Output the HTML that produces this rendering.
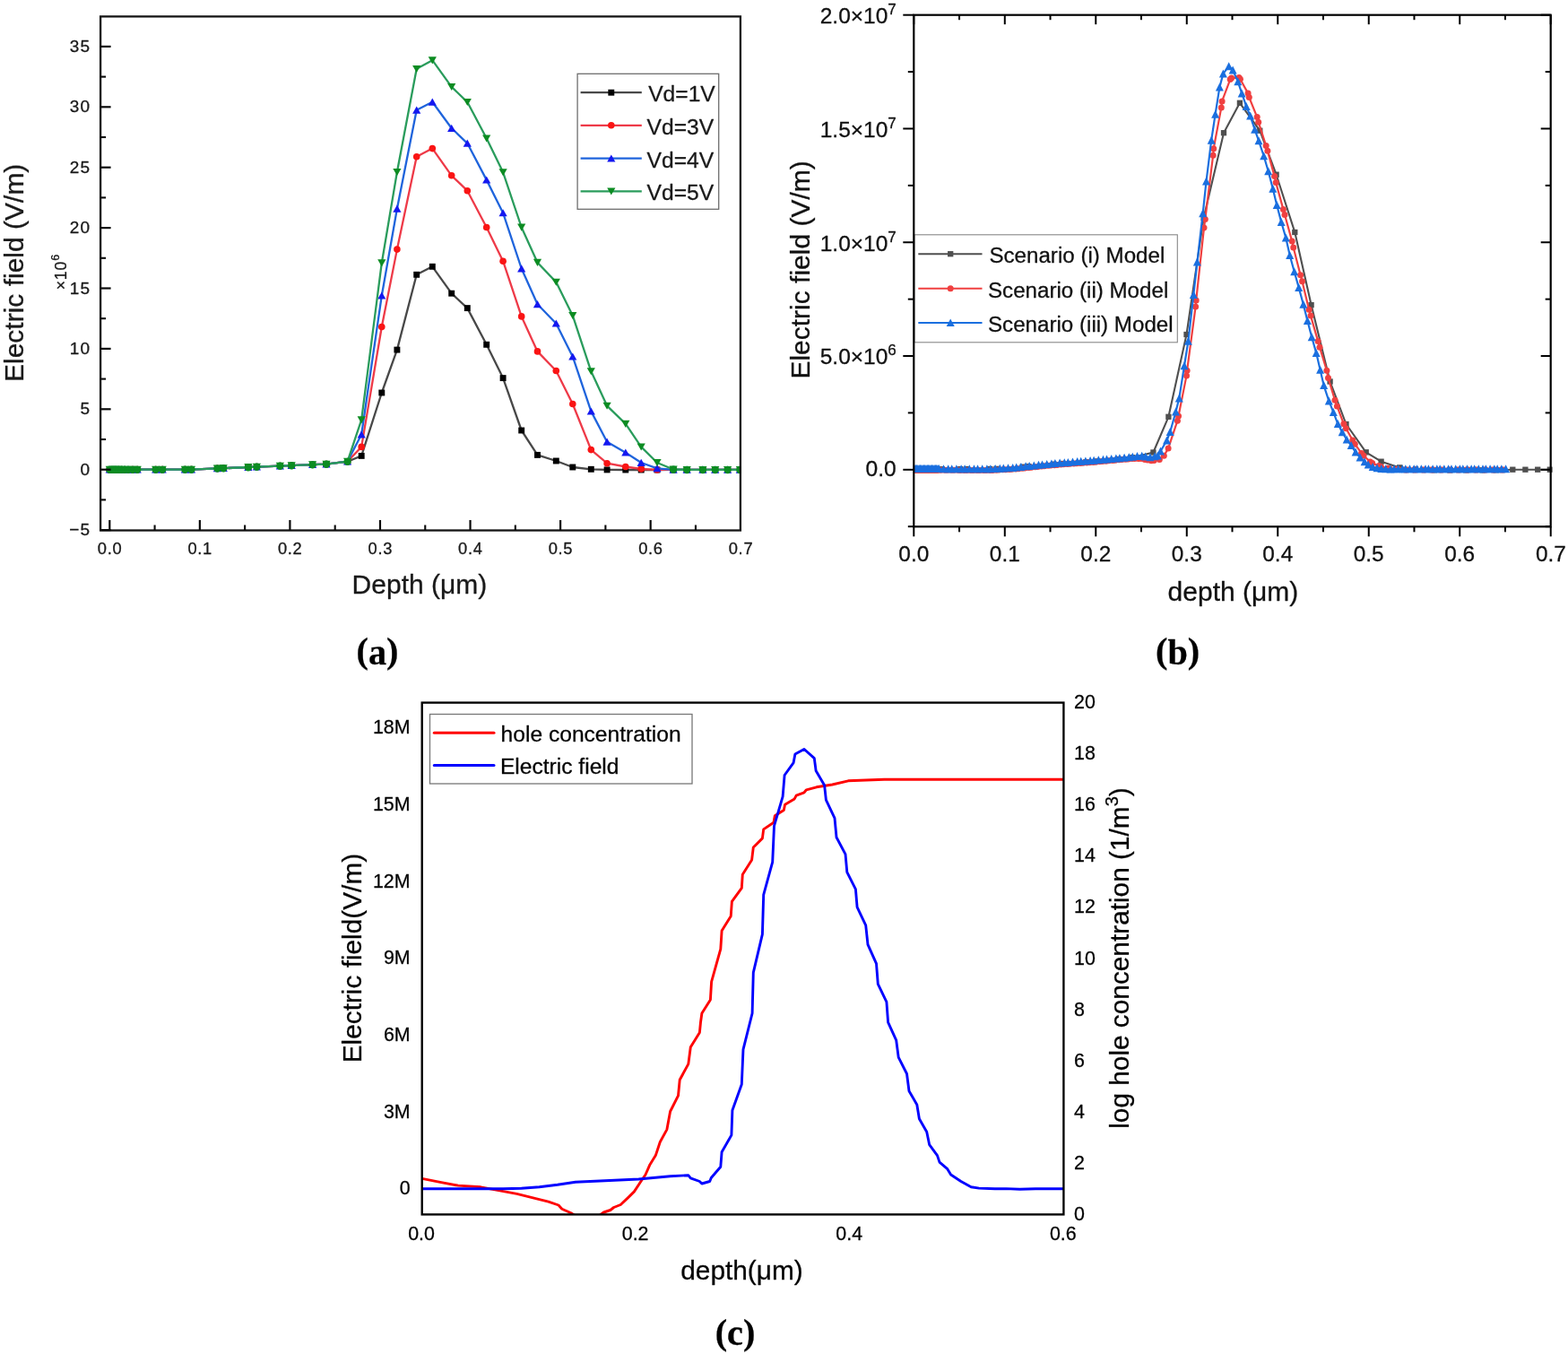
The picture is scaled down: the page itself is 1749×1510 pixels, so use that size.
<!DOCTYPE html>
<html lang="en">
<head>
<meta charset="utf-8">
<title>Electric field versus depth</title>
<style>
html,body{margin:0;padding:0;background:#fff;}
body{width:1749px;height:1510px;overflow:hidden;}
svg{display:block;font-family:'Liberation Sans', Arial, Helvetica, sans-serif;}
text{stroke:#111;stroke-width:0.3px;stroke-linejoin:round;}
</style>
</head>
<body>
<svg width="1749" height="1510" viewBox="0 0 1749 1510">
<rect x="0" y="0" width="1749" height="1510" fill="#fff"/>
<g id="chart-a">
<clipPath id="clipA"><rect x="112.1" y="18.4" width="714.8" height="573.1"/></clipPath>
<g clip-path="url(#clipA)">
<polyline points="122.3,523.7 124.8,523.7 127.3,523.69 129.8,523.69 132.5,523.69 135.5,523.69 139,523.68 143,523.68 148,523.67 153.2,523.67 173.7,523.64 181.2,523.64 206.4,523.61 213.5,523.6 242.4,522.4 249.2,522.2 276.9,521 286.4,520.6 312.4,519.6 325.2,519.2 348.6,518.2 364,517.6 387.6,514.7 403.2,508.4 425.8,438 442.9,390.1 464.7,306.3 482.3,297.3 503.7,327.2 521.3,343.6 542.7,384.3 561.1,421.6 581.7,480 599.5,507.4 620.3,514 638.8,521 659.3,523.3 677.1,523.9 697.8,524 715.2,524 733,524 751.1,523.9 766.2,523.8 783.9,523.8 797.7,523.8 811.6,523.8 825.4,523.8" fill="none" stroke="#484848" stroke-width="2.3" stroke-linejoin="round" stroke-linecap="round"/>
<rect x="118.85" y="520.25" width="6.9" height="6.9" fill="#000000"/>
<rect x="121.35" y="520.25" width="6.9" height="6.9" fill="#000000"/>
<rect x="123.85" y="520.24" width="6.9" height="6.9" fill="#000000"/>
<rect x="126.35" y="520.24" width="6.9" height="6.9" fill="#000000"/>
<rect x="129.05" y="520.24" width="6.9" height="6.9" fill="#000000"/>
<rect x="132.05" y="520.24" width="6.9" height="6.9" fill="#000000"/>
<rect x="135.55" y="520.23" width="6.9" height="6.9" fill="#000000"/>
<rect x="139.55" y="520.23" width="6.9" height="6.9" fill="#000000"/>
<rect x="144.55" y="520.22" width="6.9" height="6.9" fill="#000000"/>
<rect x="149.75" y="520.22" width="6.9" height="6.9" fill="#000000"/>
<rect x="170.25" y="520.19" width="6.9" height="6.9" fill="#000000"/>
<rect x="177.75" y="520.19" width="6.9" height="6.9" fill="#000000"/>
<rect x="202.95" y="520.16" width="6.9" height="6.9" fill="#000000"/>
<rect x="210.05" y="520.15" width="6.9" height="6.9" fill="#000000"/>
<rect x="238.95" y="518.95" width="6.9" height="6.9" fill="#000000"/>
<rect x="245.75" y="518.75" width="6.9" height="6.9" fill="#000000"/>
<rect x="273.45" y="517.55" width="6.9" height="6.9" fill="#000000"/>
<rect x="282.95" y="517.15" width="6.9" height="6.9" fill="#000000"/>
<rect x="308.95" y="516.15" width="6.9" height="6.9" fill="#000000"/>
<rect x="321.75" y="515.75" width="6.9" height="6.9" fill="#000000"/>
<rect x="345.15" y="514.75" width="6.9" height="6.9" fill="#000000"/>
<rect x="360.55" y="514.15" width="6.9" height="6.9" fill="#000000"/>
<rect x="384.15" y="511.25" width="6.9" height="6.9" fill="#000000"/>
<rect x="399.75" y="504.95" width="6.9" height="6.9" fill="#000000"/>
<rect x="422.35" y="434.55" width="6.9" height="6.9" fill="#000000"/>
<rect x="439.45" y="386.65" width="6.9" height="6.9" fill="#000000"/>
<rect x="461.25" y="302.85" width="6.9" height="6.9" fill="#000000"/>
<rect x="478.85" y="293.85" width="6.9" height="6.9" fill="#000000"/>
<rect x="500.25" y="323.75" width="6.9" height="6.9" fill="#000000"/>
<rect x="517.85" y="340.15" width="6.9" height="6.9" fill="#000000"/>
<rect x="539.25" y="380.85" width="6.9" height="6.9" fill="#000000"/>
<rect x="557.65" y="418.15" width="6.9" height="6.9" fill="#000000"/>
<rect x="578.25" y="476.55" width="6.9" height="6.9" fill="#000000"/>
<rect x="596.05" y="503.95" width="6.9" height="6.9" fill="#000000"/>
<rect x="616.85" y="510.55" width="6.9" height="6.9" fill="#000000"/>
<rect x="635.35" y="517.55" width="6.9" height="6.9" fill="#000000"/>
<rect x="655.85" y="519.85" width="6.9" height="6.9" fill="#000000"/>
<rect x="673.65" y="520.45" width="6.9" height="6.9" fill="#000000"/>
<rect x="694.35" y="520.55" width="6.9" height="6.9" fill="#000000"/>
<rect x="711.75" y="520.55" width="6.9" height="6.9" fill="#000000"/>
<rect x="729.55" y="520.55" width="6.9" height="6.9" fill="#000000"/>
<rect x="747.65" y="520.45" width="6.9" height="6.9" fill="#000000"/>
<rect x="762.75" y="520.35" width="6.9" height="6.9" fill="#000000"/>
<rect x="780.45" y="520.35" width="6.9" height="6.9" fill="#000000"/>
<rect x="794.25" y="520.35" width="6.9" height="6.9" fill="#000000"/>
<rect x="808.15" y="520.35" width="6.9" height="6.9" fill="#000000"/>
<rect x="821.95" y="520.35" width="6.9" height="6.9" fill="#000000"/>
<polyline points="122.3,523.7 124.8,523.7 127.3,523.69 129.8,523.69 132.5,523.69 135.5,523.69 139,523.68 143,523.68 148,523.67 153.2,523.67 173.7,523.64 181.2,523.64 206.4,523.61 213.5,523.6 242.4,522.4 249.2,522.2 276.9,521 286.4,520.6 312.4,519.6 325.2,519.2 348.6,518.2 364,517.6 387.6,514.7 403.2,498.4 425.8,364.5 442.9,278.1 464.7,174.7 482.3,165.6 503.7,195.8 521.3,212.7 542.7,253.5 561.1,291.2 581.7,352.9 599.5,391.9 620.3,413.5 638.8,450.5 659.3,501.6 677.1,516.7 697.8,520.5 715.2,523 733,523.9 751.1,523.9 766.2,523.8 783.9,523.8 797.7,523.8 811.6,523.8 825.4,523.8" fill="none" stroke="#ee3a48" stroke-width="2.3" stroke-linejoin="round" stroke-linecap="round"/>
<circle cx="122.3" cy="523.7" r="3.8" fill="#fa1414"/>
<circle cx="124.8" cy="523.7" r="3.8" fill="#fa1414"/>
<circle cx="127.3" cy="523.69" r="3.8" fill="#fa1414"/>
<circle cx="129.8" cy="523.69" r="3.8" fill="#fa1414"/>
<circle cx="132.5" cy="523.69" r="3.8" fill="#fa1414"/>
<circle cx="135.5" cy="523.69" r="3.8" fill="#fa1414"/>
<circle cx="139" cy="523.68" r="3.8" fill="#fa1414"/>
<circle cx="143" cy="523.68" r="3.8" fill="#fa1414"/>
<circle cx="148" cy="523.67" r="3.8" fill="#fa1414"/>
<circle cx="153.2" cy="523.67" r="3.8" fill="#fa1414"/>
<circle cx="173.7" cy="523.64" r="3.8" fill="#fa1414"/>
<circle cx="181.2" cy="523.64" r="3.8" fill="#fa1414"/>
<circle cx="206.4" cy="523.61" r="3.8" fill="#fa1414"/>
<circle cx="213.5" cy="523.6" r="3.8" fill="#fa1414"/>
<circle cx="242.4" cy="522.4" r="3.8" fill="#fa1414"/>
<circle cx="249.2" cy="522.2" r="3.8" fill="#fa1414"/>
<circle cx="276.9" cy="521" r="3.8" fill="#fa1414"/>
<circle cx="286.4" cy="520.6" r="3.8" fill="#fa1414"/>
<circle cx="312.4" cy="519.6" r="3.8" fill="#fa1414"/>
<circle cx="325.2" cy="519.2" r="3.8" fill="#fa1414"/>
<circle cx="348.6" cy="518.2" r="3.8" fill="#fa1414"/>
<circle cx="364" cy="517.6" r="3.8" fill="#fa1414"/>
<circle cx="387.6" cy="514.7" r="3.8" fill="#fa1414"/>
<circle cx="403.2" cy="498.4" r="3.8" fill="#fa1414"/>
<circle cx="425.8" cy="364.5" r="3.8" fill="#fa1414"/>
<circle cx="442.9" cy="278.1" r="3.8" fill="#fa1414"/>
<circle cx="464.7" cy="174.7" r="3.8" fill="#fa1414"/>
<circle cx="482.3" cy="165.6" r="3.8" fill="#fa1414"/>
<circle cx="503.7" cy="195.8" r="3.8" fill="#fa1414"/>
<circle cx="521.3" cy="212.7" r="3.8" fill="#fa1414"/>
<circle cx="542.7" cy="253.5" r="3.8" fill="#fa1414"/>
<circle cx="561.1" cy="291.2" r="3.8" fill="#fa1414"/>
<circle cx="581.7" cy="352.9" r="3.8" fill="#fa1414"/>
<circle cx="599.5" cy="391.9" r="3.8" fill="#fa1414"/>
<circle cx="620.3" cy="413.5" r="3.8" fill="#fa1414"/>
<circle cx="638.8" cy="450.5" r="3.8" fill="#fa1414"/>
<circle cx="659.3" cy="501.6" r="3.8" fill="#fa1414"/>
<circle cx="677.1" cy="516.7" r="3.8" fill="#fa1414"/>
<circle cx="697.8" cy="520.5" r="3.8" fill="#fa1414"/>
<circle cx="715.2" cy="523" r="3.8" fill="#fa1414"/>
<circle cx="733" cy="523.9" r="3.8" fill="#fa1414"/>
<circle cx="751.1" cy="523.9" r="3.8" fill="#fa1414"/>
<circle cx="766.2" cy="523.8" r="3.8" fill="#fa1414"/>
<circle cx="783.9" cy="523.8" r="3.8" fill="#fa1414"/>
<circle cx="797.7" cy="523.8" r="3.8" fill="#fa1414"/>
<circle cx="811.6" cy="523.8" r="3.8" fill="#fa1414"/>
<circle cx="825.4" cy="523.8" r="3.8" fill="#fa1414"/>
<polyline points="122.3,523.7 124.8,523.7 127.3,523.69 129.8,523.69 132.5,523.69 135.5,523.69 139,523.68 143,523.68 148,523.67 153.2,523.67 173.7,523.64 181.2,523.64 206.4,523.61 213.5,523.6 242.4,522.4 249.2,522.2 276.9,521 286.4,520.6 312.4,519.6 325.2,519.2 348.6,518.2 364,517.6 387.6,514.7 403.2,484.5 425.8,329.7 442.9,232.8 464.7,122.8 482.3,113.8 503.7,143 521.3,159.8 542.7,200.6 561.1,237.4 581.7,299.5 599.5,339.3 620.3,360.7 638.8,397.7 659.3,458.6 677.1,492.8 697.8,504.7 715.2,516 733,522.3 751.1,523.8 766.2,523.8 783.9,523.8 797.7,523.8 811.6,523.8 825.4,523.8" fill="none" stroke="#1f64dc" stroke-width="2.3" stroke-linejoin="round" stroke-linecap="round"/>
<polygon points="122.3,519.49 117.7,527.59 126.9,527.59" fill="#1418f0"/>
<polygon points="124.8,519.49 120.2,527.58 129.4,527.58" fill="#1418f0"/>
<polygon points="127.3,519.48 122.7,527.58 131.9,527.58" fill="#1418f0"/>
<polygon points="129.8,519.48 125.2,527.58 134.4,527.58" fill="#1418f0"/>
<polygon points="132.5,519.48 127.9,527.57 137.1,527.57" fill="#1418f0"/>
<polygon points="135.5,519.48 130.9,527.57 140.1,527.57" fill="#1418f0"/>
<polygon points="139,519.47 134.4,527.57 143.6,527.57" fill="#1418f0"/>
<polygon points="143,519.47 138.4,527.56 147.6,527.56" fill="#1418f0"/>
<polygon points="148,519.46 143.4,527.56 152.6,527.56" fill="#1418f0"/>
<polygon points="153.2,519.46 148.6,527.55 157.8,527.55" fill="#1418f0"/>
<polygon points="173.7,519.43 169.1,527.53 178.3,527.53" fill="#1418f0"/>
<polygon points="181.2,519.43 176.6,527.52 185.8,527.52" fill="#1418f0"/>
<polygon points="206.4,519.4 201.8,527.49 211,527.49" fill="#1418f0"/>
<polygon points="213.5,519.39 208.9,527.49 218.1,527.49" fill="#1418f0"/>
<polygon points="242.4,518.19 237.8,526.29 247,526.29" fill="#1418f0"/>
<polygon points="249.2,517.99 244.6,526.09 253.8,526.09" fill="#1418f0"/>
<polygon points="276.9,516.79 272.3,524.89 281.5,524.89" fill="#1418f0"/>
<polygon points="286.4,516.39 281.8,524.49 291,524.49" fill="#1418f0"/>
<polygon points="312.4,515.39 307.8,523.49 317,523.49" fill="#1418f0"/>
<polygon points="325.2,514.99 320.6,523.09 329.8,523.09" fill="#1418f0"/>
<polygon points="348.6,513.99 344,522.09 353.2,522.09" fill="#1418f0"/>
<polygon points="364,513.39 359.4,521.49 368.6,521.49" fill="#1418f0"/>
<polygon points="387.6,510.49 383,518.59 392.2,518.59" fill="#1418f0"/>
<polygon points="403.2,480.29 398.6,488.39 407.8,488.39" fill="#1418f0"/>
<polygon points="425.8,325.49 421.2,333.59 430.4,333.59" fill="#1418f0"/>
<polygon points="442.9,228.59 438.3,236.69 447.5,236.69" fill="#1418f0"/>
<polygon points="464.7,118.59 460.1,126.69 469.3,126.69" fill="#1418f0"/>
<polygon points="482.3,109.59 477.7,117.69 486.9,117.69" fill="#1418f0"/>
<polygon points="503.7,138.79 499.1,146.89 508.3,146.89" fill="#1418f0"/>
<polygon points="521.3,155.59 516.7,163.69 525.9,163.69" fill="#1418f0"/>
<polygon points="542.7,196.39 538.1,204.49 547.3,204.49" fill="#1418f0"/>
<polygon points="561.1,233.19 556.5,241.29 565.7,241.29" fill="#1418f0"/>
<polygon points="581.7,295.29 577.1,303.39 586.3,303.39" fill="#1418f0"/>
<polygon points="599.5,335.09 594.9,343.19 604.1,343.19" fill="#1418f0"/>
<polygon points="620.3,356.49 615.7,364.59 624.9,364.59" fill="#1418f0"/>
<polygon points="638.8,393.49 634.2,401.59 643.4,401.59" fill="#1418f0"/>
<polygon points="659.3,454.39 654.7,462.49 663.9,462.49" fill="#1418f0"/>
<polygon points="677.1,488.59 672.5,496.69 681.7,496.69" fill="#1418f0"/>
<polygon points="697.8,500.49 693.2,508.59 702.4,508.59" fill="#1418f0"/>
<polygon points="715.2,511.79 710.6,519.89 719.8,519.89" fill="#1418f0"/>
<polygon points="733,518.09 728.4,526.19 737.6,526.19" fill="#1418f0"/>
<polygon points="751.1,519.59 746.5,527.69 755.7,527.69" fill="#1418f0"/>
<polygon points="766.2,519.59 761.6,527.69 770.8,527.69" fill="#1418f0"/>
<polygon points="783.9,519.59 779.3,527.69 788.5,527.69" fill="#1418f0"/>
<polygon points="797.7,519.59 793.1,527.69 802.3,527.69" fill="#1418f0"/>
<polygon points="811.6,519.59 807,527.69 816.2,527.69" fill="#1418f0"/>
<polygon points="825.4,519.59 820.8,527.69 830,527.69" fill="#1418f0"/>
<polyline points="122.3,523.7 124.8,523.7 127.3,523.69 129.8,523.69 132.5,523.69 135.5,523.69 139,523.68 143,523.68 148,523.67 153.2,523.67 173.7,523.64 181.2,523.64 206.4,523.61 213.5,523.6 242.4,522.4 249.2,522.2 276.9,521 286.4,520.6 312.4,519.6 325.2,519.2 348.6,518.2 364,517.6 387.6,514.7 403.2,468.2 425.8,293.2 442.9,191.8 464.7,76.8 482.3,67.2 503.7,96.9 521.3,113.8 542.7,154.3 561.1,192.1 581.7,253.5 599.5,292.7 620.3,314.6 638.8,351.9 659.3,414.1 677.1,452.6 697.8,472.7 715.2,498.4 733,516 751.1,523.5 766.2,523.8 783.9,523.8 797.7,523.8 811.6,523.8 825.4,523.8" fill="none" stroke="#2a9c5c" stroke-width="2.3" stroke-linejoin="round" stroke-linecap="round"/>
<circle cx="122.3" cy="523.9" r="4.2" fill="#0c8c22"/>
<polygon points="122.3,527.91 117.7,519.81 126.9,519.81" fill="#0c8c22"/>
<circle cx="124.8" cy="523.9" r="4.2" fill="#0c8c22"/>
<polygon points="124.8,527.91 120.2,519.81 129.4,519.81" fill="#0c8c22"/>
<circle cx="127.3" cy="523.89" r="4.2" fill="#0c8c22"/>
<polygon points="127.3,527.9 122.7,519.81 131.9,519.81" fill="#0c8c22"/>
<circle cx="129.8" cy="523.89" r="4.2" fill="#0c8c22"/>
<polygon points="129.8,527.9 125.2,519.81 134.4,519.81" fill="#0c8c22"/>
<circle cx="132.5" cy="523.89" r="4.2" fill="#0c8c22"/>
<polygon points="132.5,527.9 127.9,519.8 137.1,519.8" fill="#0c8c22"/>
<circle cx="135.5" cy="523.89" r="4.2" fill="#0c8c22"/>
<polygon points="135.5,527.9 130.9,519.8 140.1,519.8" fill="#0c8c22"/>
<circle cx="139" cy="523.88" r="4.2" fill="#0c8c22"/>
<polygon points="139,527.89 134.4,519.8 143.6,519.8" fill="#0c8c22"/>
<circle cx="143" cy="523.88" r="4.2" fill="#0c8c22"/>
<polygon points="143,527.89 138.4,519.79 147.6,519.79" fill="#0c8c22"/>
<circle cx="148" cy="523.87" r="4.2" fill="#0c8c22"/>
<polygon points="148,527.88 143.4,519.79 152.6,519.79" fill="#0c8c22"/>
<circle cx="153.2" cy="523.87" r="4.2" fill="#0c8c22"/>
<polygon points="153.2,527.88 148.6,519.78 157.8,519.78" fill="#0c8c22"/>
<circle cx="173.7" cy="523.84" r="4.2" fill="#0c8c22"/>
<polygon points="173.7,527.85 169.1,519.76 178.3,519.76" fill="#0c8c22"/>
<circle cx="181.2" cy="523.84" r="4.2" fill="#0c8c22"/>
<polygon points="181.2,527.85 176.6,519.75 185.8,519.75" fill="#0c8c22"/>
<circle cx="206.4" cy="523.81" r="4.2" fill="#0c8c22"/>
<polygon points="206.4,527.82 201.8,519.72 211,519.72" fill="#0c8c22"/>
<circle cx="213.5" cy="523.8" r="4.2" fill="#0c8c22"/>
<polygon points="213.5,527.81 208.9,519.71 218.1,519.71" fill="#0c8c22"/>
<circle cx="242.4" cy="522.6" r="4.2" fill="#0c8c22"/>
<polygon points="242.4,526.61 237.8,518.51 247,518.51" fill="#0c8c22"/>
<circle cx="249.2" cy="522.4" r="4.2" fill="#0c8c22"/>
<polygon points="249.2,526.41 244.6,518.31 253.8,518.31" fill="#0c8c22"/>
<circle cx="276.9" cy="521.2" r="4.2" fill="#0c8c22"/>
<polygon points="276.9,525.21 272.3,517.11 281.5,517.11" fill="#0c8c22"/>
<circle cx="286.4" cy="520.8" r="4.2" fill="#0c8c22"/>
<polygon points="286.4,524.81 281.8,516.71 291,516.71" fill="#0c8c22"/>
<circle cx="312.4" cy="519.8" r="4.2" fill="#0c8c22"/>
<polygon points="312.4,523.81 307.8,515.71 317,515.71" fill="#0c8c22"/>
<circle cx="325.2" cy="519.4" r="4.2" fill="#0c8c22"/>
<polygon points="325.2,523.41 320.6,515.31 329.8,515.31" fill="#0c8c22"/>
<circle cx="348.6" cy="518.4" r="4.2" fill="#0c8c22"/>
<polygon points="348.6,522.41 344,514.31 353.2,514.31" fill="#0c8c22"/>
<circle cx="364" cy="517.8" r="4.2" fill="#0c8c22"/>
<polygon points="364,521.81 359.4,513.71 368.6,513.71" fill="#0c8c22"/>
<circle cx="387.6" cy="514.9" r="4.2" fill="#0c8c22"/>
<polygon points="387.6,518.91 383,510.81 392.2,510.81" fill="#0c8c22"/>
<polygon points="403.2,472.41 398.6,464.31 407.8,464.31" fill="#0c8c22"/>
<polygon points="425.8,297.41 421.2,289.31 430.4,289.31" fill="#0c8c22"/>
<polygon points="442.9,196.01 438.3,187.91 447.5,187.91" fill="#0c8c22"/>
<polygon points="464.7,81.01 460.1,72.91 469.3,72.91" fill="#0c8c22"/>
<polygon points="482.3,71.41 477.7,63.31 486.9,63.31" fill="#0c8c22"/>
<polygon points="503.7,101.11 499.1,93.01 508.3,93.01" fill="#0c8c22"/>
<polygon points="521.3,118.01 516.7,109.91 525.9,109.91" fill="#0c8c22"/>
<polygon points="542.7,158.51 538.1,150.41 547.3,150.41" fill="#0c8c22"/>
<polygon points="561.1,196.31 556.5,188.21 565.7,188.21" fill="#0c8c22"/>
<polygon points="581.7,257.71 577.1,249.61 586.3,249.61" fill="#0c8c22"/>
<polygon points="599.5,296.91 594.9,288.81 604.1,288.81" fill="#0c8c22"/>
<polygon points="620.3,318.81 615.7,310.71 624.9,310.71" fill="#0c8c22"/>
<polygon points="638.8,356.11 634.2,348.01 643.4,348.01" fill="#0c8c22"/>
<polygon points="659.3,418.31 654.7,410.21 663.9,410.21" fill="#0c8c22"/>
<polygon points="677.1,456.81 672.5,448.71 681.7,448.71" fill="#0c8c22"/>
<polygon points="697.8,476.91 693.2,468.81 702.4,468.81" fill="#0c8c22"/>
<polygon points="715.2,502.61 710.6,494.51 719.8,494.51" fill="#0c8c22"/>
<polygon points="733,520.21 728.4,512.11 737.6,512.11" fill="#0c8c22"/>
<circle cx="751.1" cy="523.7" r="4.2" fill="#0c8c22"/>
<polygon points="751.1,527.71 746.5,519.61 755.7,519.61" fill="#0c8c22"/>
<circle cx="766.2" cy="524" r="4.2" fill="#0c8c22"/>
<polygon points="766.2,528.01 761.6,519.91 770.8,519.91" fill="#0c8c22"/>
<circle cx="783.9" cy="524" r="4.2" fill="#0c8c22"/>
<polygon points="783.9,528.01 779.3,519.91 788.5,519.91" fill="#0c8c22"/>
<circle cx="797.7" cy="524" r="4.2" fill="#0c8c22"/>
<polygon points="797.7,528.01 793.1,519.91 802.3,519.91" fill="#0c8c22"/>
<circle cx="811.6" cy="524" r="4.2" fill="#0c8c22"/>
<polygon points="811.6,528.01 807,519.91 816.2,519.91" fill="#0c8c22"/>
<circle cx="825.4" cy="524" r="4.2" fill="#0c8c22"/>
<polygon points="825.4,528.01 820.8,519.91 830,519.91" fill="#0c8c22"/>
</g>
<rect x="112.1" y="18.4" width="713.8" height="573.1" fill="none" stroke="#141414" stroke-width="2.3"/>
<line x1="112.1" y1="591.1" x2="123.6" y2="591.1" stroke="#0a0a0a" stroke-width="2.2"/>
<line x1="112.1" y1="557.4" x2="118.1" y2="557.4" stroke="#0a0a0a" stroke-width="2.1"/>
<line x1="112.1" y1="523.7" x2="123.6" y2="523.7" stroke="#0a0a0a" stroke-width="2.2"/>
<line x1="112.1" y1="490" x2="118.1" y2="490" stroke="#0a0a0a" stroke-width="2.1"/>
<line x1="112.1" y1="456.3" x2="123.6" y2="456.3" stroke="#0a0a0a" stroke-width="2.2"/>
<line x1="112.1" y1="422.6" x2="118.1" y2="422.6" stroke="#0a0a0a" stroke-width="2.1"/>
<line x1="112.1" y1="388.9" x2="123.6" y2="388.9" stroke="#0a0a0a" stroke-width="2.2"/>
<line x1="112.1" y1="355.2" x2="118.1" y2="355.2" stroke="#0a0a0a" stroke-width="2.1"/>
<line x1="112.1" y1="321.5" x2="123.6" y2="321.5" stroke="#0a0a0a" stroke-width="2.2"/>
<line x1="112.1" y1="287.8" x2="118.1" y2="287.8" stroke="#0a0a0a" stroke-width="2.1"/>
<line x1="112.1" y1="254.1" x2="123.6" y2="254.1" stroke="#0a0a0a" stroke-width="2.2"/>
<line x1="112.1" y1="220.4" x2="118.1" y2="220.4" stroke="#0a0a0a" stroke-width="2.1"/>
<line x1="112.1" y1="186.7" x2="123.6" y2="186.7" stroke="#0a0a0a" stroke-width="2.2"/>
<line x1="112.1" y1="153" x2="118.1" y2="153" stroke="#0a0a0a" stroke-width="2.1"/>
<line x1="112.1" y1="119.3" x2="123.6" y2="119.3" stroke="#0a0a0a" stroke-width="2.2"/>
<line x1="112.1" y1="85.6" x2="118.1" y2="85.6" stroke="#0a0a0a" stroke-width="2.1"/>
<line x1="112.1" y1="51.9" x2="123.6" y2="51.9" stroke="#0a0a0a" stroke-width="2.2"/>
<line x1="122.3" y1="591.5" x2="122.3" y2="580" stroke="#0a0a0a" stroke-width="2.2"/>
<line x1="172.58" y1="591.5" x2="172.58" y2="585.5" stroke="#0a0a0a" stroke-width="2.1"/>
<line x1="222.86" y1="591.5" x2="222.86" y2="580" stroke="#0a0a0a" stroke-width="2.2"/>
<line x1="273.14" y1="591.5" x2="273.14" y2="585.5" stroke="#0a0a0a" stroke-width="2.1"/>
<line x1="323.42" y1="591.5" x2="323.42" y2="580" stroke="#0a0a0a" stroke-width="2.2"/>
<line x1="373.7" y1="591.5" x2="373.7" y2="585.5" stroke="#0a0a0a" stroke-width="2.1"/>
<line x1="423.98" y1="591.5" x2="423.98" y2="580" stroke="#0a0a0a" stroke-width="2.2"/>
<line x1="474.26" y1="591.5" x2="474.26" y2="585.5" stroke="#0a0a0a" stroke-width="2.1"/>
<line x1="524.54" y1="591.5" x2="524.54" y2="580" stroke="#0a0a0a" stroke-width="2.2"/>
<line x1="574.82" y1="591.5" x2="574.82" y2="585.5" stroke="#0a0a0a" stroke-width="2.1"/>
<line x1="625.1" y1="591.5" x2="625.1" y2="580" stroke="#0a0a0a" stroke-width="2.2"/>
<line x1="675.38" y1="591.5" x2="675.38" y2="585.5" stroke="#0a0a0a" stroke-width="2.1"/>
<line x1="725.66" y1="591.5" x2="725.66" y2="580" stroke="#0a0a0a" stroke-width="2.2"/>
<line x1="775.94" y1="591.5" x2="775.94" y2="585.5" stroke="#0a0a0a" stroke-width="2.1"/>
<text x="101.1" y="597.2" font-size="19" text-anchor="end" font-weight="normal" fill="#1a1a1a" letter-spacing="1.1">−5</text>
<text x="101.1" y="529.8" font-size="19" text-anchor="end" font-weight="normal" fill="#1a1a1a" letter-spacing="1.1">0</text>
<text x="101.1" y="462.4" font-size="19" text-anchor="end" font-weight="normal" fill="#1a1a1a" letter-spacing="1.1">5</text>
<text x="101.1" y="395" font-size="19" text-anchor="end" font-weight="normal" fill="#1a1a1a" letter-spacing="1.1">10</text>
<text x="101.1" y="327.6" font-size="19" text-anchor="end" font-weight="normal" fill="#1a1a1a" letter-spacing="1.1">15</text>
<text x="101.1" y="260.2" font-size="19" text-anchor="end" font-weight="normal" fill="#1a1a1a" letter-spacing="1.1">20</text>
<text x="101.1" y="192.8" font-size="19" text-anchor="end" font-weight="normal" fill="#1a1a1a" letter-spacing="1.1">25</text>
<text x="101.1" y="125.4" font-size="19" text-anchor="end" font-weight="normal" fill="#1a1a1a" letter-spacing="1.1">30</text>
<text x="101.1" y="58" font-size="19" text-anchor="end" font-weight="normal" fill="#1a1a1a" letter-spacing="1.1">35</text>
<text x="122.6" y="618.2" font-size="18.3" text-anchor="middle" font-weight="normal" fill="#1a1a1a" letter-spacing="0.7">0.0</text>
<text x="223.16" y="618.2" font-size="18.3" text-anchor="middle" font-weight="normal" fill="#1a1a1a" letter-spacing="0.7">0.1</text>
<text x="323.72" y="618.2" font-size="18.3" text-anchor="middle" font-weight="normal" fill="#1a1a1a" letter-spacing="0.7">0.2</text>
<text x="424.28" y="618.2" font-size="18.3" text-anchor="middle" font-weight="normal" fill="#1a1a1a" letter-spacing="0.7">0.3</text>
<text x="524.84" y="618.2" font-size="18.3" text-anchor="middle" font-weight="normal" fill="#1a1a1a" letter-spacing="0.7">0.4</text>
<text x="625.4" y="618.2" font-size="18.3" text-anchor="middle" font-weight="normal" fill="#1a1a1a" letter-spacing="0.7">0.5</text>
<text x="725.96" y="618.2" font-size="18.3" text-anchor="middle" font-weight="normal" fill="#1a1a1a" letter-spacing="0.7">0.6</text>
<text x="826.52" y="618.2" font-size="18.3" text-anchor="middle" font-weight="normal" fill="#1a1a1a" letter-spacing="0.7">0.7</text>
<text x="392.6" y="661.8" font-size="30" text-anchor="start" font-weight="normal" fill="#1a1a1a">Depth (μm)</text>
<text x="26.1" y="426" font-size="30" text-anchor="start" font-weight="normal" fill="#1a1a1a" transform="rotate(-90 26.1 426)">Electric field (V/m)</text>
<text x="73.6" y="323.3" font-size="17.6" letter-spacing="0.9" text-anchor="start" fill="#1a1a1a" transform="rotate(-90 73.6 323.3)">×10<tspan font-size="12.5" dy="-8">6</tspan></text>
<rect x="644.1" y="82.3" width="157.6" height="151" fill="#fff" stroke="#6e6e6e" stroke-width="1.3"/>
<line x1="647.6" y1="103.2" x2="715.8" y2="103.2" stroke="#484848" stroke-width="2.3"/>
<rect x="678.35" y="99.75" width="6.9" height="6.9" fill="#000000"/>
<text x="723.2" y="112.7" font-size="24.6" text-anchor="start" font-weight="normal" fill="#1a1a1a">Vd=1V</text>
<line x1="647.6" y1="139.8" x2="715.8" y2="139.8" stroke="#ee3a48" stroke-width="2.3"/>
<circle cx="681.8" cy="139.8" r="3.8" fill="#fa1414"/>
<text x="721.6" y="149.8" font-size="24.6" text-anchor="start" font-weight="normal" fill="#1a1a1a">Vd=3V</text>
<line x1="647.6" y1="176.6" x2="715.8" y2="176.6" stroke="#1f64dc" stroke-width="2.3"/>
<polygon points="681.8,172.39 677.2,180.49 686.4,180.49" fill="#1418f0"/>
<text x="721.6" y="186.6" font-size="24.6" text-anchor="start" font-weight="normal" fill="#1a1a1a">Vd=4V</text>
<line x1="647.6" y1="213.4" x2="715.8" y2="213.4" stroke="#2a9c5c" stroke-width="2.3"/>
<polygon points="681.8,217.61 677.2,209.51 686.4,209.51" fill="#0c8c22"/>
<text x="721.6" y="222.9" font-size="24.6" text-anchor="start" font-weight="normal" fill="#1a1a1a">Vd=5V</text>
<text x="421.0" y="740.6" font-size="40.3" text-anchor="middle" font-weight="bold" fill="#000" font-family="Liberation Serif, Times New Roman, serif"><tspan dy="-1.3">(</tspan><tspan dy="1.3">a</tspan><tspan dy="-1.3">)</tspan></text>
</g>
<g id="chart-b">
<clipPath id="clipB"><rect x="1019.3" y="16.7" width="712.4" height="570.6"/></clipPath>
<g clip-path="url(#clipB)">
<polyline points="1019.3,523.3 1021.84,523.29 1024.37,523.29 1026.91,523.28 1029.65,523.27 1032.7,523.26 1036.25,523.25 1040.31,523.23 1045.28,523.22 1050.56,523.2 1071.26,523.13 1078.87,523.1 1104.25,523.02 1111.45,522.89 1140.58,520.71 1147.48,520.19 1175.49,517.71 1185.03,516.98 1211.32,515.29 1224.21,514.38 1247.86,512.01 1263.38,510.25 1286.4,504.5 1303.4,464.8 1323.5,373 1342.6,243 1365,148.2 1382.9,114.8 1405.3,145.7 1423.6,194.7 1444.3,259 1462.6,340.1 1483.6,425.5 1501.5,473 1523.7,504.3 1540.6,514.7 1561.2,521.4 1579.1,523.4 1600,524.2 1617.5,524.3 1635.4,524.3 1653.7,524.3 1668.9,524.2 1687.3,523.7 1701.4,523.7 1715.2,523.7 1728.8,523.7" fill="none" stroke="#4f4f4f" stroke-width="2.1" stroke-linejoin="round" stroke-linecap="round"/>
<rect x="1016.15" y="520.15" width="6.3" height="6.3" fill="#4f4f4f"/>
<rect x="1018.69" y="520.14" width="6.3" height="6.3" fill="#4f4f4f"/>
<rect x="1021.22" y="520.14" width="6.3" height="6.3" fill="#4f4f4f"/>
<rect x="1023.76" y="520.13" width="6.3" height="6.3" fill="#4f4f4f"/>
<rect x="1026.5" y="520.12" width="6.3" height="6.3" fill="#4f4f4f"/>
<rect x="1029.55" y="520.11" width="6.3" height="6.3" fill="#4f4f4f"/>
<rect x="1033.1" y="520.1" width="6.3" height="6.3" fill="#4f4f4f"/>
<rect x="1037.16" y="520.08" width="6.3" height="6.3" fill="#4f4f4f"/>
<rect x="1042.13" y="520.07" width="6.3" height="6.3" fill="#4f4f4f"/>
<rect x="1047.41" y="520.05" width="6.3" height="6.3" fill="#4f4f4f"/>
<rect x="1068.11" y="519.98" width="6.3" height="6.3" fill="#4f4f4f"/>
<rect x="1075.72" y="519.95" width="6.3" height="6.3" fill="#4f4f4f"/>
<rect x="1101.1" y="519.87" width="6.3" height="6.3" fill="#4f4f4f"/>
<rect x="1108.3" y="519.74" width="6.3" height="6.3" fill="#4f4f4f"/>
<rect x="1137.43" y="517.56" width="6.3" height="6.3" fill="#4f4f4f"/>
<rect x="1144.33" y="517.04" width="6.3" height="6.3" fill="#4f4f4f"/>
<rect x="1172.34" y="514.56" width="6.3" height="6.3" fill="#4f4f4f"/>
<rect x="1181.88" y="513.83" width="6.3" height="6.3" fill="#4f4f4f"/>
<rect x="1208.17" y="512.14" width="6.3" height="6.3" fill="#4f4f4f"/>
<rect x="1221.06" y="511.23" width="6.3" height="6.3" fill="#4f4f4f"/>
<rect x="1244.71" y="508.86" width="6.3" height="6.3" fill="#4f4f4f"/>
<rect x="1260.23" y="507.1" width="6.3" height="6.3" fill="#4f4f4f"/>
<rect x="1283.25" y="501.35" width="6.3" height="6.3" fill="#4f4f4f"/>
<rect x="1300.25" y="461.65" width="6.3" height="6.3" fill="#4f4f4f"/>
<rect x="1320.35" y="369.85" width="6.3" height="6.3" fill="#4f4f4f"/>
<rect x="1339.45" y="239.85" width="6.3" height="6.3" fill="#4f4f4f"/>
<rect x="1361.85" y="145.05" width="6.3" height="6.3" fill="#4f4f4f"/>
<rect x="1379.75" y="111.65" width="6.3" height="6.3" fill="#4f4f4f"/>
<rect x="1402.15" y="142.55" width="6.3" height="6.3" fill="#4f4f4f"/>
<rect x="1420.45" y="191.55" width="6.3" height="6.3" fill="#4f4f4f"/>
<rect x="1441.15" y="255.85" width="6.3" height="6.3" fill="#4f4f4f"/>
<rect x="1459.45" y="336.95" width="6.3" height="6.3" fill="#4f4f4f"/>
<rect x="1480.45" y="422.35" width="6.3" height="6.3" fill="#4f4f4f"/>
<rect x="1498.35" y="469.85" width="6.3" height="6.3" fill="#4f4f4f"/>
<rect x="1520.55" y="501.15" width="6.3" height="6.3" fill="#4f4f4f"/>
<rect x="1537.45" y="511.55" width="6.3" height="6.3" fill="#4f4f4f"/>
<rect x="1558.05" y="518.25" width="6.3" height="6.3" fill="#4f4f4f"/>
<rect x="1575.95" y="520.25" width="6.3" height="6.3" fill="#4f4f4f"/>
<rect x="1596.85" y="521.05" width="6.3" height="6.3" fill="#4f4f4f"/>
<rect x="1614.35" y="521.15" width="6.3" height="6.3" fill="#4f4f4f"/>
<rect x="1632.25" y="521.15" width="6.3" height="6.3" fill="#4f4f4f"/>
<rect x="1650.55" y="521.15" width="6.3" height="6.3" fill="#4f4f4f"/>
<rect x="1665.75" y="521.05" width="6.3" height="6.3" fill="#4f4f4f"/>
<rect x="1684.15" y="520.55" width="6.3" height="6.3" fill="#4f4f4f"/>
<rect x="1698.25" y="520.55" width="6.3" height="6.3" fill="#4f4f4f"/>
<rect x="1712.05" y="520.55" width="6.3" height="6.3" fill="#4f4f4f"/>
<rect x="1725.65" y="520.55" width="6.3" height="6.3" fill="#4f4f4f"/>
<polyline points="1020,524.2 1021.4,524.2 1022.8,524.21 1024.2,524.21 1025.6,524.22 1027,524.22 1028.4,524.23 1029.8,524.23 1031.2,524.24 1032.6,524.24 1034,524.25 1035.4,524.25 1036.8,524.26 1038.2,524.26 1039.6,524.27 1041,524.27 1042.4,524.28 1043.8,524.28 1045.2,524.29 1046.6,524.29 1049.6,524.3 1053.8,524.32 1056.8,524.33 1061,524.34 1064,524.36 1068.2,524.37 1071.2,524.38 1075.4,524.4 1078.4,524.41 1082.6,524.42 1085.6,524.43 1089.8,524.45 1092.8,524.46 1097,524.47 1100,524.48 1104.2,524.5 1107.2,524.39 1111.4,524.19 1114.4,524.05 1118.6,523.85 1121.6,523.7 1125.8,523.5 1128.8,523.36 1133,522.98 1136,522.67 1140.2,522.23 1143.2,521.91 1147.4,521.47 1150.4,521.16 1154.6,520.76 1157.6,520.47 1161.8,520.06 1164.8,519.77 1169,519.36 1172,519.07 1176.2,518.67 1179.2,518.38 1183.4,518.05 1186.4,517.83 1190.6,517.52 1193.6,517.3 1197.8,516.99 1200.8,516.76 1205,516.45 1208,516.23 1212.2,515.92 1215.2,515.7 1219.4,515.39 1222.4,515.16 1226.6,514.79 1229.6,514.52 1233.8,514.14 1236.8,513.87 1241,513.49 1244,513.22 1248.2,512.84 1251.2,512.57 1255.4,512.19 1258.4,511.92 1262.6,511.59 1265.6,511.53 1269.8,511.46 1272.8,511.4 1277,512.38 1280,513.12 1284.2,513.77 1287.2,513.39 1293.3,512.6 1298.3,508.2 1303.1,500.1 1313.4,469.2 1314.5,464 1323.5,418.9 1324.1,413.2 1333.6,342 1334.2,335.1 1343,253.9 1344.3,244.5 1353.1,173.3 1353.7,165.8 1362.3,119.9 1363.1,112.9 1372.2,88.6 1373.6,87 1382,86.6 1383.4,88.2 1392.1,104.1 1393.3,108.5 1402.2,130.6 1403.7,136.2 1412.2,162.6 1413.9,168.3 1421.6,196.6 1423.2,203.6 1431.4,233.4 1433,239.4 1441.2,269 1442.7,275.9 1450.6,306.8 1452.5,313.7 1460.1,345.2 1462,352.1 1470.1,380.4 1472,387.3 1479.9,413.2 1481.5,421.5 1489,446.3 1491.4,453 1498.9,472.8 1501.4,477.8 1508.8,491 1511.3,495.2 1518.6,505.4 1521,508.2 1528.3,514.9 1530.7,516.6 1538,519.6 1540.4,520.4 1547.8,522.3 1550.2,522.7 1557.5,523.4 1559.9,523.5 1567.2,523.9 1569.6,523.9 1576.95,523.9 1579.35,523.9 1586.7,523.9 1589.1,523.9 1596.45,523.9 1598.85,523.9 1606.2,523.9 1608.6,523.9 1615.95,523.9 1618.35,523.9 1625.7,523.9 1628.1,523.9 1635.45,523.9 1637.85,523.9 1645.2,523.9 1647.6,523.9 1654.95,523.9 1657.35,523.9 1664.7,523.9 1667.1,523.9 1674.45,523.9 1676.85,523.9" fill="none" stroke="#f04040" stroke-width="2.2" stroke-linejoin="round" stroke-linecap="round"/>
<circle cx="1020" cy="524.2" r="3.5" fill="#f04040"/>
<circle cx="1021.4" cy="524.2" r="3.5" fill="#f04040"/>
<circle cx="1022.8" cy="524.21" r="3.5" fill="#f04040"/>
<circle cx="1024.2" cy="524.21" r="3.5" fill="#f04040"/>
<circle cx="1025.6" cy="524.22" r="3.5" fill="#f04040"/>
<circle cx="1027" cy="524.22" r="3.5" fill="#f04040"/>
<circle cx="1028.4" cy="524.23" r="3.5" fill="#f04040"/>
<circle cx="1029.8" cy="524.23" r="3.5" fill="#f04040"/>
<circle cx="1031.2" cy="524.24" r="3.5" fill="#f04040"/>
<circle cx="1032.6" cy="524.24" r="3.5" fill="#f04040"/>
<circle cx="1034" cy="524.25" r="3.5" fill="#f04040"/>
<circle cx="1035.4" cy="524.25" r="3.5" fill="#f04040"/>
<circle cx="1036.8" cy="524.26" r="3.5" fill="#f04040"/>
<circle cx="1038.2" cy="524.26" r="3.5" fill="#f04040"/>
<circle cx="1039.6" cy="524.27" r="3.5" fill="#f04040"/>
<circle cx="1041" cy="524.27" r="3.5" fill="#f04040"/>
<circle cx="1042.4" cy="524.28" r="3.5" fill="#f04040"/>
<circle cx="1043.8" cy="524.28" r="3.5" fill="#f04040"/>
<circle cx="1045.2" cy="524.29" r="3.5" fill="#f04040"/>
<circle cx="1046.6" cy="524.29" r="3.5" fill="#f04040"/>
<circle cx="1049.6" cy="524.3" r="3.5" fill="#f04040"/>
<circle cx="1053.8" cy="524.32" r="3.5" fill="#f04040"/>
<circle cx="1056.8" cy="524.33" r="3.5" fill="#f04040"/>
<circle cx="1061" cy="524.34" r="3.5" fill="#f04040"/>
<circle cx="1064" cy="524.36" r="3.5" fill="#f04040"/>
<circle cx="1068.2" cy="524.37" r="3.5" fill="#f04040"/>
<circle cx="1071.2" cy="524.38" r="3.5" fill="#f04040"/>
<circle cx="1075.4" cy="524.4" r="3.5" fill="#f04040"/>
<circle cx="1078.4" cy="524.41" r="3.5" fill="#f04040"/>
<circle cx="1082.6" cy="524.42" r="3.5" fill="#f04040"/>
<circle cx="1085.6" cy="524.43" r="3.5" fill="#f04040"/>
<circle cx="1089.8" cy="524.45" r="3.5" fill="#f04040"/>
<circle cx="1092.8" cy="524.46" r="3.5" fill="#f04040"/>
<circle cx="1097" cy="524.47" r="3.5" fill="#f04040"/>
<circle cx="1100" cy="524.48" r="3.5" fill="#f04040"/>
<circle cx="1104.2" cy="524.5" r="3.5" fill="#f04040"/>
<circle cx="1107.2" cy="524.39" r="3.5" fill="#f04040"/>
<circle cx="1111.4" cy="524.19" r="3.5" fill="#f04040"/>
<circle cx="1114.4" cy="524.05" r="3.5" fill="#f04040"/>
<circle cx="1118.6" cy="523.85" r="3.5" fill="#f04040"/>
<circle cx="1121.6" cy="523.7" r="3.5" fill="#f04040"/>
<circle cx="1125.8" cy="523.5" r="3.5" fill="#f04040"/>
<circle cx="1128.8" cy="523.36" r="3.5" fill="#f04040"/>
<circle cx="1133" cy="522.98" r="3.5" fill="#f04040"/>
<circle cx="1136" cy="522.67" r="3.5" fill="#f04040"/>
<circle cx="1140.2" cy="522.23" r="3.5" fill="#f04040"/>
<circle cx="1143.2" cy="521.91" r="3.5" fill="#f04040"/>
<circle cx="1147.4" cy="521.47" r="3.5" fill="#f04040"/>
<circle cx="1150.4" cy="521.16" r="3.5" fill="#f04040"/>
<circle cx="1154.6" cy="520.76" r="3.5" fill="#f04040"/>
<circle cx="1157.6" cy="520.47" r="3.5" fill="#f04040"/>
<circle cx="1161.8" cy="520.06" r="3.5" fill="#f04040"/>
<circle cx="1164.8" cy="519.77" r="3.5" fill="#f04040"/>
<circle cx="1169" cy="519.36" r="3.5" fill="#f04040"/>
<circle cx="1172" cy="519.07" r="3.5" fill="#f04040"/>
<circle cx="1176.2" cy="518.67" r="3.5" fill="#f04040"/>
<circle cx="1179.2" cy="518.38" r="3.5" fill="#f04040"/>
<circle cx="1183.4" cy="518.05" r="3.5" fill="#f04040"/>
<circle cx="1186.4" cy="517.83" r="3.5" fill="#f04040"/>
<circle cx="1190.6" cy="517.52" r="3.5" fill="#f04040"/>
<circle cx="1193.6" cy="517.3" r="3.5" fill="#f04040"/>
<circle cx="1197.8" cy="516.99" r="3.5" fill="#f04040"/>
<circle cx="1200.8" cy="516.76" r="3.5" fill="#f04040"/>
<circle cx="1205" cy="516.45" r="3.5" fill="#f04040"/>
<circle cx="1208" cy="516.23" r="3.5" fill="#f04040"/>
<circle cx="1212.2" cy="515.92" r="3.5" fill="#f04040"/>
<circle cx="1215.2" cy="515.7" r="3.5" fill="#f04040"/>
<circle cx="1219.4" cy="515.39" r="3.5" fill="#f04040"/>
<circle cx="1222.4" cy="515.16" r="3.5" fill="#f04040"/>
<circle cx="1226.6" cy="514.79" r="3.5" fill="#f04040"/>
<circle cx="1229.6" cy="514.52" r="3.5" fill="#f04040"/>
<circle cx="1233.8" cy="514.14" r="3.5" fill="#f04040"/>
<circle cx="1236.8" cy="513.87" r="3.5" fill="#f04040"/>
<circle cx="1241" cy="513.49" r="3.5" fill="#f04040"/>
<circle cx="1244" cy="513.22" r="3.5" fill="#f04040"/>
<circle cx="1248.2" cy="512.84" r="3.5" fill="#f04040"/>
<circle cx="1251.2" cy="512.57" r="3.5" fill="#f04040"/>
<circle cx="1255.4" cy="512.19" r="3.5" fill="#f04040"/>
<circle cx="1258.4" cy="511.92" r="3.5" fill="#f04040"/>
<circle cx="1262.6" cy="511.59" r="3.5" fill="#f04040"/>
<circle cx="1265.6" cy="511.53" r="3.5" fill="#f04040"/>
<circle cx="1269.8" cy="511.46" r="3.5" fill="#f04040"/>
<circle cx="1272.8" cy="511.4" r="3.5" fill="#f04040"/>
<circle cx="1277" cy="512.38" r="3.5" fill="#f04040"/>
<circle cx="1280" cy="513.12" r="3.5" fill="#f04040"/>
<circle cx="1284.2" cy="513.77" r="3.5" fill="#f04040"/>
<circle cx="1287.2" cy="513.39" r="3.5" fill="#f04040"/>
<circle cx="1293.3" cy="512.6" r="3.5" fill="#f04040"/>
<circle cx="1298.3" cy="508.2" r="3.5" fill="#f04040"/>
<circle cx="1303.1" cy="500.1" r="3.5" fill="#f04040"/>
<circle cx="1313.4" cy="469.2" r="3.5" fill="#f04040"/>
<circle cx="1314.5" cy="464" r="3.5" fill="#f04040"/>
<circle cx="1323.5" cy="418.9" r="3.5" fill="#f04040"/>
<circle cx="1324.1" cy="413.2" r="3.5" fill="#f04040"/>
<circle cx="1333.6" cy="342" r="3.5" fill="#f04040"/>
<circle cx="1334.2" cy="335.1" r="3.5" fill="#f04040"/>
<circle cx="1343" cy="253.9" r="3.5" fill="#f04040"/>
<circle cx="1344.3" cy="244.5" r="3.5" fill="#f04040"/>
<circle cx="1353.1" cy="173.3" r="3.5" fill="#f04040"/>
<circle cx="1353.7" cy="165.8" r="3.5" fill="#f04040"/>
<circle cx="1362.3" cy="119.9" r="3.5" fill="#f04040"/>
<circle cx="1363.1" cy="112.9" r="3.5" fill="#f04040"/>
<circle cx="1372.2" cy="88.6" r="3.5" fill="#f04040"/>
<circle cx="1373.6" cy="87" r="3.5" fill="#f04040"/>
<circle cx="1382" cy="86.6" r="3.5" fill="#f04040"/>
<circle cx="1383.4" cy="88.2" r="3.5" fill="#f04040"/>
<circle cx="1392.1" cy="104.1" r="3.5" fill="#f04040"/>
<circle cx="1393.3" cy="108.5" r="3.5" fill="#f04040"/>
<circle cx="1402.2" cy="130.6" r="3.5" fill="#f04040"/>
<circle cx="1403.7" cy="136.2" r="3.5" fill="#f04040"/>
<circle cx="1412.2" cy="162.6" r="3.5" fill="#f04040"/>
<circle cx="1413.9" cy="168.3" r="3.5" fill="#f04040"/>
<circle cx="1421.6" cy="196.6" r="3.5" fill="#f04040"/>
<circle cx="1423.2" cy="203.6" r="3.5" fill="#f04040"/>
<circle cx="1431.4" cy="233.4" r="3.5" fill="#f04040"/>
<circle cx="1433" cy="239.4" r="3.5" fill="#f04040"/>
<circle cx="1441.2" cy="269" r="3.5" fill="#f04040"/>
<circle cx="1442.7" cy="275.9" r="3.5" fill="#f04040"/>
<circle cx="1450.6" cy="306.8" r="3.5" fill="#f04040"/>
<circle cx="1452.5" cy="313.7" r="3.5" fill="#f04040"/>
<circle cx="1460.1" cy="345.2" r="3.5" fill="#f04040"/>
<circle cx="1462" cy="352.1" r="3.5" fill="#f04040"/>
<circle cx="1470.1" cy="380.4" r="3.5" fill="#f04040"/>
<circle cx="1472" cy="387.3" r="3.5" fill="#f04040"/>
<circle cx="1479.9" cy="413.2" r="3.5" fill="#f04040"/>
<circle cx="1481.5" cy="421.5" r="3.5" fill="#f04040"/>
<circle cx="1489" cy="446.3" r="3.5" fill="#f04040"/>
<circle cx="1491.4" cy="453" r="3.5" fill="#f04040"/>
<circle cx="1498.9" cy="472.8" r="3.5" fill="#f04040"/>
<circle cx="1501.4" cy="477.8" r="3.5" fill="#f04040"/>
<circle cx="1508.8" cy="491" r="3.5" fill="#f04040"/>
<circle cx="1511.3" cy="495.2" r="3.5" fill="#f04040"/>
<circle cx="1518.6" cy="505.4" r="3.5" fill="#f04040"/>
<circle cx="1521" cy="508.2" r="3.5" fill="#f04040"/>
<circle cx="1528.3" cy="514.9" r="3.5" fill="#f04040"/>
<circle cx="1530.7" cy="516.6" r="3.5" fill="#f04040"/>
<circle cx="1538" cy="519.6" r="3.5" fill="#f04040"/>
<circle cx="1540.4" cy="520.4" r="3.5" fill="#f04040"/>
<circle cx="1547.8" cy="522.3" r="3.5" fill="#f04040"/>
<circle cx="1550.2" cy="522.7" r="3.5" fill="#f04040"/>
<circle cx="1557.5" cy="523.4" r="3.5" fill="#f04040"/>
<circle cx="1559.9" cy="523.5" r="3.5" fill="#f04040"/>
<circle cx="1567.2" cy="523.9" r="3.5" fill="#f04040"/>
<circle cx="1569.6" cy="523.9" r="3.5" fill="#f04040"/>
<circle cx="1576.95" cy="523.9" r="3.5" fill="#f04040"/>
<circle cx="1579.35" cy="523.9" r="3.5" fill="#f04040"/>
<circle cx="1586.7" cy="523.9" r="3.5" fill="#f04040"/>
<circle cx="1589.1" cy="523.9" r="3.5" fill="#f04040"/>
<circle cx="1596.45" cy="523.9" r="3.5" fill="#f04040"/>
<circle cx="1598.85" cy="523.9" r="3.5" fill="#f04040"/>
<circle cx="1606.2" cy="523.9" r="3.5" fill="#f04040"/>
<circle cx="1608.6" cy="523.9" r="3.5" fill="#f04040"/>
<circle cx="1615.95" cy="523.9" r="3.5" fill="#f04040"/>
<circle cx="1618.35" cy="523.9" r="3.5" fill="#f04040"/>
<circle cx="1625.7" cy="523.9" r="3.5" fill="#f04040"/>
<circle cx="1628.1" cy="523.9" r="3.5" fill="#f04040"/>
<circle cx="1635.45" cy="523.9" r="3.5" fill="#f04040"/>
<circle cx="1637.85" cy="523.9" r="3.5" fill="#f04040"/>
<circle cx="1645.2" cy="523.9" r="3.5" fill="#f04040"/>
<circle cx="1647.6" cy="523.9" r="3.5" fill="#f04040"/>
<circle cx="1654.95" cy="523.9" r="3.5" fill="#f04040"/>
<circle cx="1657.35" cy="523.9" r="3.5" fill="#f04040"/>
<circle cx="1664.7" cy="523.9" r="3.5" fill="#f04040"/>
<circle cx="1667.1" cy="523.9" r="3.5" fill="#f04040"/>
<circle cx="1674.45" cy="523.9" r="3.5" fill="#f04040"/>
<circle cx="1676.85" cy="523.9" r="3.5" fill="#f04040"/>
<polyline points="1020,522.7 1021.3,522.7 1022.6,522.71 1023.9,522.71 1025.2,522.72 1026.5,522.72 1027.8,522.73 1029.1,522.73 1030.4,522.74 1031.7,522.74 1033,522.75 1034.3,522.75 1035.6,522.76 1036.9,522.76 1038.2,522.76 1039.5,522.77 1040.8,522.77 1042.1,522.78 1043.4,522.78 1044.7,522.79 1046,522.79 1047.3,522.8 1052.5,522.81 1057.7,522.83 1061.7,522.85 1066.9,522.87 1072.1,522.88 1076.1,522.9 1081.3,522.92 1086.5,522.93 1090.5,522.95 1095.7,522.97 1100.9,522.99 1104.9,523 1110.1,522.71 1115.3,522.42 1119.3,522.2 1124.5,521.91 1129.7,521.62 1133.7,521.19 1138.9,520.62 1144.1,520.05 1148.1,519.61 1153.3,519.07 1158.5,518.55 1162.5,518.15 1167.7,517.63 1172.9,517.11 1176.9,516.71 1182.1,516.25 1187.3,515.86 1191.3,515.57 1196.5,515.18 1201.7,514.8 1205.7,514.5 1210.9,514.12 1216.1,513.74 1220.1,513.44 1225.3,512.99 1230.5,512.51 1234.5,512.14 1239.7,511.66 1244.9,511.18 1248.9,510.81 1254.1,510.33 1259.3,509.85 1263.3,509.44 1268.5,508.78 1273.7,508.31 1277.7,509.07 1282.9,510.04 1288.1,508.96 1291.4,508.2 1294.5,503.2 1301.5,491.3 1305.2,481.8 1311.5,459.2 1315.3,444.1 1321,408 1325.4,380.4 1331.3,328.8 1335.4,292.3 1341.7,238 1345.5,202.3 1351.2,156.4 1355.6,127.4 1360.4,97.2 1364.4,82.1 1370.7,73.9 1375.1,78.3 1380.8,90.9 1385.2,104.1 1390.2,118.6 1394.6,129.3 1399.6,144.4 1404,157 1409.7,174 1414.7,191 1419.8,210.5 1424.2,228.7 1429.2,247.6 1434.3,265.2 1438.7,284.8 1443.7,303 1448.7,320.6 1453.8,339.5 1458.4,357.8 1463.2,376 1468.2,393.6 1472.6,412.4 1476.6,429.8 1482.3,447.2 1487.3,459.6 1492.3,472.8 1497.2,481.9 1502.2,490.2 1507.2,496.8 1512.1,504.3 1517.1,510.1 1522.1,515 1526.2,518.3 1531.2,520.8 1536,521.9 1540.8,522.6 1545.6,523 1551,523.3 1555,523 1559.7,523 1564.4,523 1567.8,523 1572.5,523 1577.2,523 1580.6,523 1585.3,523 1590,523 1593.4,523 1598.1,523 1602.8,523 1606.2,523 1610.9,523 1615.6,523 1619,523 1623.7,523 1628.4,523 1631.8,523 1636.5,523 1641.2,523 1644.6,523 1649.3,523 1654,523 1657.4,523 1662.1,523 1666.8,523 1670.2,523 1674.9,523 1679.6,523" fill="none" stroke="#1a6fdf" stroke-width="2.2" stroke-linejoin="round" stroke-linecap="round"/>
<polygon points="1020,518.02 1015.5,527.02 1024.5,527.02" fill="#1a6fdf"/>
<polygon points="1021.3,518.02 1016.8,527.02 1025.8,527.02" fill="#1a6fdf"/>
<polygon points="1022.6,518.03 1018.1,527.03 1027.1,527.03" fill="#1a6fdf"/>
<polygon points="1023.9,518.03 1019.4,527.03 1028.4,527.03" fill="#1a6fdf"/>
<polygon points="1025.2,518.04 1020.7,527.04 1029.7,527.04" fill="#1a6fdf"/>
<polygon points="1026.5,518.04 1022,527.04 1031,527.04" fill="#1a6fdf"/>
<polygon points="1027.8,518.05 1023.3,527.05 1032.3,527.05" fill="#1a6fdf"/>
<polygon points="1029.1,518.05 1024.6,527.05 1033.6,527.05" fill="#1a6fdf"/>
<polygon points="1030.4,518.06 1025.9,527.06 1034.9,527.06" fill="#1a6fdf"/>
<polygon points="1031.7,518.06 1027.2,527.06 1036.2,527.06" fill="#1a6fdf"/>
<polygon points="1033,518.07 1028.5,527.07 1037.5,527.07" fill="#1a6fdf"/>
<polygon points="1034.3,518.07 1029.8,527.07 1038.8,527.07" fill="#1a6fdf"/>
<polygon points="1035.6,518.08 1031.1,527.08 1040.1,527.08" fill="#1a6fdf"/>
<polygon points="1036.9,518.08 1032.4,527.08 1041.4,527.08" fill="#1a6fdf"/>
<polygon points="1038.2,518.08 1033.7,527.08 1042.7,527.08" fill="#1a6fdf"/>
<polygon points="1039.5,518.09 1035,527.09 1044,527.09" fill="#1a6fdf"/>
<polygon points="1040.8,518.09 1036.3,527.09 1045.3,527.09" fill="#1a6fdf"/>
<polygon points="1042.1,518.1 1037.6,527.1 1046.6,527.1" fill="#1a6fdf"/>
<polygon points="1043.4,518.1 1038.9,527.1 1047.9,527.1" fill="#1a6fdf"/>
<polygon points="1044.7,518.11 1040.2,527.11 1049.2,527.11" fill="#1a6fdf"/>
<polygon points="1046,518.11 1041.5,527.11 1050.5,527.11" fill="#1a6fdf"/>
<polygon points="1047.3,518.12 1042.8,527.12 1051.8,527.12" fill="#1a6fdf"/>
<polygon points="1052.5,518.13 1048,527.13 1057,527.13" fill="#1a6fdf"/>
<polygon points="1057.7,518.15 1053.2,527.15 1062.2,527.15" fill="#1a6fdf"/>
<polygon points="1061.7,518.17 1057.2,527.17 1066.2,527.17" fill="#1a6fdf"/>
<polygon points="1066.9,518.19 1062.4,527.19 1071.4,527.19" fill="#1a6fdf"/>
<polygon points="1072.1,518.2 1067.6,527.2 1076.6,527.2" fill="#1a6fdf"/>
<polygon points="1076.1,518.22 1071.6,527.22 1080.6,527.22" fill="#1a6fdf"/>
<polygon points="1081.3,518.24 1076.8,527.24 1085.8,527.24" fill="#1a6fdf"/>
<polygon points="1086.5,518.25 1082,527.25 1091,527.25" fill="#1a6fdf"/>
<polygon points="1090.5,518.27 1086,527.27 1095,527.27" fill="#1a6fdf"/>
<polygon points="1095.7,518.29 1091.2,527.29 1100.2,527.29" fill="#1a6fdf"/>
<polygon points="1100.9,518.31 1096.4,527.31 1105.4,527.31" fill="#1a6fdf"/>
<polygon points="1104.9,518.32 1100.4,527.32 1109.4,527.32" fill="#1a6fdf"/>
<polygon points="1110.1,518.03 1105.6,527.03 1114.6,527.03" fill="#1a6fdf"/>
<polygon points="1115.3,517.74 1110.8,526.74 1119.8,526.74" fill="#1a6fdf"/>
<polygon points="1119.3,517.52 1114.8,526.52 1123.8,526.52" fill="#1a6fdf"/>
<polygon points="1124.5,517.23 1120,526.23 1129,526.23" fill="#1a6fdf"/>
<polygon points="1129.7,516.94 1125.2,525.94 1134.2,525.94" fill="#1a6fdf"/>
<polygon points="1133.7,516.51 1129.2,525.51 1138.2,525.51" fill="#1a6fdf"/>
<polygon points="1138.9,515.94 1134.4,524.94 1143.4,524.94" fill="#1a6fdf"/>
<polygon points="1144.1,515.37 1139.6,524.37 1148.6,524.37" fill="#1a6fdf"/>
<polygon points="1148.1,514.93 1143.6,523.93 1152.6,523.93" fill="#1a6fdf"/>
<polygon points="1153.3,514.39 1148.8,523.39 1157.8,523.39" fill="#1a6fdf"/>
<polygon points="1158.5,513.87 1154,522.87 1163,522.87" fill="#1a6fdf"/>
<polygon points="1162.5,513.47 1158,522.47 1167,522.47" fill="#1a6fdf"/>
<polygon points="1167.7,512.95 1163.2,521.95 1172.2,521.95" fill="#1a6fdf"/>
<polygon points="1172.9,512.43 1168.4,521.43 1177.4,521.43" fill="#1a6fdf"/>
<polygon points="1176.9,512.03 1172.4,521.03 1181.4,521.03" fill="#1a6fdf"/>
<polygon points="1182.1,511.56 1177.6,520.57 1186.6,520.57" fill="#1a6fdf"/>
<polygon points="1187.3,511.18 1182.8,520.18 1191.8,520.18" fill="#1a6fdf"/>
<polygon points="1191.3,510.89 1186.8,519.89 1195.8,519.89" fill="#1a6fdf"/>
<polygon points="1196.5,510.5 1192,519.5 1201,519.5" fill="#1a6fdf"/>
<polygon points="1201.7,510.12 1197.2,519.12 1206.2,519.12" fill="#1a6fdf"/>
<polygon points="1205.7,509.82 1201.2,518.82 1210.2,518.82" fill="#1a6fdf"/>
<polygon points="1210.9,509.44 1206.4,518.44 1215.4,518.44" fill="#1a6fdf"/>
<polygon points="1216.1,509.06 1211.6,518.06 1220.6,518.06" fill="#1a6fdf"/>
<polygon points="1220.1,508.76 1215.6,517.76 1224.6,517.76" fill="#1a6fdf"/>
<polygon points="1225.3,508.31 1220.8,517.31 1229.8,517.31" fill="#1a6fdf"/>
<polygon points="1230.5,507.83 1226,516.83 1235,516.83" fill="#1a6fdf"/>
<polygon points="1234.5,507.46 1230,516.46 1239,516.46" fill="#1a6fdf"/>
<polygon points="1239.7,506.98 1235.2,515.98 1244.2,515.98" fill="#1a6fdf"/>
<polygon points="1244.9,506.5 1240.4,515.5 1249.4,515.5" fill="#1a6fdf"/>
<polygon points="1248.9,506.13 1244.4,515.13 1253.4,515.13" fill="#1a6fdf"/>
<polygon points="1254.1,505.65 1249.6,514.65 1258.6,514.65" fill="#1a6fdf"/>
<polygon points="1259.3,505.17 1254.8,514.17 1263.8,514.17" fill="#1a6fdf"/>
<polygon points="1263.3,504.76 1258.8,513.76 1267.8,513.76" fill="#1a6fdf"/>
<polygon points="1268.5,504.1 1264,513.1 1273,513.1" fill="#1a6fdf"/>
<polygon points="1273.7,503.63 1269.2,512.63 1278.2,512.63" fill="#1a6fdf"/>
<polygon points="1277.7,504.39 1273.2,513.39 1282.2,513.39" fill="#1a6fdf"/>
<polygon points="1282.9,505.36 1278.4,514.36 1287.4,514.36" fill="#1a6fdf"/>
<polygon points="1288.1,504.28 1283.6,513.28 1292.6,513.28" fill="#1a6fdf"/>
<polygon points="1291.4,503.52 1286.9,512.52 1295.9,512.52" fill="#1a6fdf"/>
<polygon points="1294.5,498.52 1290,507.52 1299,507.52" fill="#1a6fdf"/>
<polygon points="1301.5,486.62 1297,495.62 1306,495.62" fill="#1a6fdf"/>
<polygon points="1305.2,477.12 1300.7,486.12 1309.7,486.12" fill="#1a6fdf"/>
<polygon points="1311.5,454.52 1307,463.52 1316,463.52" fill="#1a6fdf"/>
<polygon points="1315.3,439.42 1310.8,448.42 1319.8,448.42" fill="#1a6fdf"/>
<polygon points="1321,403.32 1316.5,412.32 1325.5,412.32" fill="#1a6fdf"/>
<polygon points="1325.4,375.72 1320.9,384.72 1329.9,384.72" fill="#1a6fdf"/>
<polygon points="1331.3,324.12 1326.8,333.12 1335.8,333.12" fill="#1a6fdf"/>
<polygon points="1335.4,287.62 1330.9,296.62 1339.9,296.62" fill="#1a6fdf"/>
<polygon points="1341.7,233.32 1337.2,242.32 1346.2,242.32" fill="#1a6fdf"/>
<polygon points="1345.5,197.62 1341,206.62 1350,206.62" fill="#1a6fdf"/>
<polygon points="1351.2,151.72 1346.7,160.72 1355.7,160.72" fill="#1a6fdf"/>
<polygon points="1355.6,122.72 1351.1,131.72 1360.1,131.72" fill="#1a6fdf"/>
<polygon points="1360.4,92.52 1355.9,101.52 1364.9,101.52" fill="#1a6fdf"/>
<polygon points="1364.4,77.42 1359.9,86.42 1368.9,86.42" fill="#1a6fdf"/>
<polygon points="1370.7,69.22 1366.2,78.22 1375.2,78.22" fill="#1a6fdf"/>
<polygon points="1375.1,73.62 1370.6,82.62 1379.6,82.62" fill="#1a6fdf"/>
<polygon points="1380.8,86.22 1376.3,95.22 1385.3,95.22" fill="#1a6fdf"/>
<polygon points="1385.2,99.42 1380.7,108.42 1389.7,108.42" fill="#1a6fdf"/>
<polygon points="1390.2,113.92 1385.7,122.92 1394.7,122.92" fill="#1a6fdf"/>
<polygon points="1394.6,124.62 1390.1,133.62 1399.1,133.62" fill="#1a6fdf"/>
<polygon points="1399.6,139.72 1395.1,148.72 1404.1,148.72" fill="#1a6fdf"/>
<polygon points="1404,152.32 1399.5,161.32 1408.5,161.32" fill="#1a6fdf"/>
<polygon points="1409.7,169.32 1405.2,178.32 1414.2,178.32" fill="#1a6fdf"/>
<polygon points="1414.7,186.32 1410.2,195.32 1419.2,195.32" fill="#1a6fdf"/>
<polygon points="1419.8,205.82 1415.3,214.82 1424.3,214.82" fill="#1a6fdf"/>
<polygon points="1424.2,224.02 1419.7,233.02 1428.7,233.02" fill="#1a6fdf"/>
<polygon points="1429.2,242.92 1424.7,251.92 1433.7,251.92" fill="#1a6fdf"/>
<polygon points="1434.3,260.52 1429.8,269.52 1438.8,269.52" fill="#1a6fdf"/>
<polygon points="1438.7,280.12 1434.2,289.12 1443.2,289.12" fill="#1a6fdf"/>
<polygon points="1443.7,298.32 1439.2,307.32 1448.2,307.32" fill="#1a6fdf"/>
<polygon points="1448.7,315.92 1444.2,324.92 1453.2,324.92" fill="#1a6fdf"/>
<polygon points="1453.8,334.82 1449.3,343.82 1458.3,343.82" fill="#1a6fdf"/>
<polygon points="1458.4,353.12 1453.9,362.12 1462.9,362.12" fill="#1a6fdf"/>
<polygon points="1463.2,371.32 1458.7,380.32 1467.7,380.32" fill="#1a6fdf"/>
<polygon points="1468.2,388.92 1463.7,397.92 1472.7,397.92" fill="#1a6fdf"/>
<polygon points="1472.6,407.72 1468.1,416.72 1477.1,416.72" fill="#1a6fdf"/>
<polygon points="1476.6,425.12 1472.1,434.12 1481.1,434.12" fill="#1a6fdf"/>
<polygon points="1482.3,442.52 1477.8,451.52 1486.8,451.52" fill="#1a6fdf"/>
<polygon points="1487.3,454.92 1482.8,463.92 1491.8,463.92" fill="#1a6fdf"/>
<polygon points="1492.3,468.12 1487.8,477.12 1496.8,477.12" fill="#1a6fdf"/>
<polygon points="1497.2,477.22 1492.7,486.22 1501.7,486.22" fill="#1a6fdf"/>
<polygon points="1502.2,485.52 1497.7,494.52 1506.7,494.52" fill="#1a6fdf"/>
<polygon points="1507.2,492.12 1502.7,501.12 1511.7,501.12" fill="#1a6fdf"/>
<polygon points="1512.1,499.62 1507.6,508.62 1516.6,508.62" fill="#1a6fdf"/>
<polygon points="1517.1,505.42 1512.6,514.42 1521.6,514.42" fill="#1a6fdf"/>
<polygon points="1522.1,510.32 1517.6,519.32 1526.6,519.32" fill="#1a6fdf"/>
<polygon points="1526.2,513.62 1521.7,522.62 1530.7,522.62" fill="#1a6fdf"/>
<polygon points="1531.2,516.12 1526.7,525.12 1535.7,525.12" fill="#1a6fdf"/>
<polygon points="1536,517.22 1531.5,526.22 1540.5,526.22" fill="#1a6fdf"/>
<polygon points="1540.8,517.92 1536.3,526.92 1545.3,526.92" fill="#1a6fdf"/>
<polygon points="1545.6,518.32 1541.1,527.32 1550.1,527.32" fill="#1a6fdf"/>
<polygon points="1551,518.62 1546.5,527.62 1555.5,527.62" fill="#1a6fdf"/>
<polygon points="1555,518.32 1550.5,527.32 1559.5,527.32" fill="#1a6fdf"/>
<polygon points="1559.7,518.32 1555.2,527.32 1564.2,527.32" fill="#1a6fdf"/>
<polygon points="1564.4,518.32 1559.9,527.32 1568.9,527.32" fill="#1a6fdf"/>
<polygon points="1567.8,518.32 1563.3,527.32 1572.3,527.32" fill="#1a6fdf"/>
<polygon points="1572.5,518.32 1568,527.32 1577,527.32" fill="#1a6fdf"/>
<polygon points="1577.2,518.32 1572.7,527.32 1581.7,527.32" fill="#1a6fdf"/>
<polygon points="1580.6,518.32 1576.1,527.32 1585.1,527.32" fill="#1a6fdf"/>
<polygon points="1585.3,518.32 1580.8,527.32 1589.8,527.32" fill="#1a6fdf"/>
<polygon points="1590,518.32 1585.5,527.32 1594.5,527.32" fill="#1a6fdf"/>
<polygon points="1593.4,518.32 1588.9,527.32 1597.9,527.32" fill="#1a6fdf"/>
<polygon points="1598.1,518.32 1593.6,527.32 1602.6,527.32" fill="#1a6fdf"/>
<polygon points="1602.8,518.32 1598.3,527.32 1607.3,527.32" fill="#1a6fdf"/>
<polygon points="1606.2,518.32 1601.7,527.32 1610.7,527.32" fill="#1a6fdf"/>
<polygon points="1610.9,518.32 1606.4,527.32 1615.4,527.32" fill="#1a6fdf"/>
<polygon points="1615.6,518.32 1611.1,527.32 1620.1,527.32" fill="#1a6fdf"/>
<polygon points="1619,518.32 1614.5,527.32 1623.5,527.32" fill="#1a6fdf"/>
<polygon points="1623.7,518.32 1619.2,527.32 1628.2,527.32" fill="#1a6fdf"/>
<polygon points="1628.4,518.32 1623.9,527.32 1632.9,527.32" fill="#1a6fdf"/>
<polygon points="1631.8,518.32 1627.3,527.32 1636.3,527.32" fill="#1a6fdf"/>
<polygon points="1636.5,518.32 1632,527.32 1641,527.32" fill="#1a6fdf"/>
<polygon points="1641.2,518.32 1636.7,527.32 1645.7,527.32" fill="#1a6fdf"/>
<polygon points="1644.6,518.32 1640.1,527.32 1649.1,527.32" fill="#1a6fdf"/>
<polygon points="1649.3,518.32 1644.8,527.32 1653.8,527.32" fill="#1a6fdf"/>
<polygon points="1654,518.32 1649.5,527.32 1658.5,527.32" fill="#1a6fdf"/>
<polygon points="1657.4,518.32 1652.9,527.32 1661.9,527.32" fill="#1a6fdf"/>
<polygon points="1662.1,518.32 1657.6,527.32 1666.6,527.32" fill="#1a6fdf"/>
<polygon points="1666.8,518.32 1662.3,527.32 1671.3,527.32" fill="#1a6fdf"/>
<polygon points="1670.2,518.32 1665.7,527.32 1674.7,527.32" fill="#1a6fdf"/>
<polygon points="1674.9,518.32 1670.4,527.32 1679.4,527.32" fill="#1a6fdf"/>
<polygon points="1679.6,518.32 1675.1,527.32 1684.1,527.32" fill="#1a6fdf"/>
</g>
<rect x="1020" y="261.8" width="293.3" height="120" fill="#fff" stroke="#888" stroke-width="1.1"/>
<line x1="1024.3" y1="283.2" x2="1095.5" y2="283.2" stroke="#4f4f4f" stroke-width="2"/>
<rect x="1057.05" y="280.05" width="6.3" height="6.3" fill="#4f4f4f"/>
<text x="1103.4" y="293.1" font-size="24.15" text-anchor="start" font-weight="normal" fill="#111">Scenario (i) Model</text>
<line x1="1024.3" y1="321.7" x2="1095.5" y2="321.7" stroke="#f04040" stroke-width="2"/>
<circle cx="1060.2" cy="321.7" r="3.5" fill="#f04040"/>
<text x="1102" y="331.6" font-size="24.15" text-anchor="start" font-weight="normal" fill="#111">Scenario (ii) Model</text>
<line x1="1024.3" y1="360" x2="1095.5" y2="360" stroke="#1a6fdf" stroke-width="2"/>
<polygon points="1060.2,355.55 1055.7,364.1 1064.7,364.1" fill="#1a6fdf"/>
<text x="1102" y="369.9" font-size="24.15" text-anchor="start" font-weight="normal" fill="#111">Scenario (iii) Model</text>
<rect x="1019.3" y="16.7" width="710.4" height="570.6" fill="none" stroke="#000" stroke-width="2.2"/>
<line x1="1019.3" y1="587.3" x2="1019.3" y2="598.3" stroke="#000" stroke-width="2"/>
<line x1="1019.3" y1="16.7" x2="1019.3" y2="27.2" stroke="#000" stroke-width="2"/>
<line x1="1070.05" y1="587.3" x2="1070.05" y2="593.3" stroke="#000" stroke-width="2"/>
<line x1="1070.05" y1="16.7" x2="1070.05" y2="22.2" stroke="#000" stroke-width="2"/>
<line x1="1120.79" y1="587.3" x2="1120.79" y2="598.3" stroke="#000" stroke-width="2"/>
<line x1="1120.79" y1="16.7" x2="1120.79" y2="27.2" stroke="#000" stroke-width="2"/>
<line x1="1171.53" y1="587.3" x2="1171.53" y2="593.3" stroke="#000" stroke-width="2"/>
<line x1="1171.53" y1="16.7" x2="1171.53" y2="22.2" stroke="#000" stroke-width="2"/>
<line x1="1222.28" y1="587.3" x2="1222.28" y2="598.3" stroke="#000" stroke-width="2"/>
<line x1="1222.28" y1="16.7" x2="1222.28" y2="27.2" stroke="#000" stroke-width="2"/>
<line x1="1273.02" y1="587.3" x2="1273.02" y2="593.3" stroke="#000" stroke-width="2"/>
<line x1="1273.02" y1="16.7" x2="1273.02" y2="22.2" stroke="#000" stroke-width="2"/>
<line x1="1323.77" y1="587.3" x2="1323.77" y2="598.3" stroke="#000" stroke-width="2"/>
<line x1="1323.77" y1="16.7" x2="1323.77" y2="27.2" stroke="#000" stroke-width="2"/>
<line x1="1374.51" y1="587.3" x2="1374.51" y2="593.3" stroke="#000" stroke-width="2"/>
<line x1="1374.51" y1="16.7" x2="1374.51" y2="22.2" stroke="#000" stroke-width="2"/>
<line x1="1425.26" y1="587.3" x2="1425.26" y2="598.3" stroke="#000" stroke-width="2"/>
<line x1="1425.26" y1="16.7" x2="1425.26" y2="27.2" stroke="#000" stroke-width="2"/>
<line x1="1476" y1="587.3" x2="1476" y2="593.3" stroke="#000" stroke-width="2"/>
<line x1="1476" y1="16.7" x2="1476" y2="22.2" stroke="#000" stroke-width="2"/>
<line x1="1526.75" y1="587.3" x2="1526.75" y2="598.3" stroke="#000" stroke-width="2"/>
<line x1="1526.75" y1="16.7" x2="1526.75" y2="27.2" stroke="#000" stroke-width="2"/>
<line x1="1577.49" y1="587.3" x2="1577.49" y2="593.3" stroke="#000" stroke-width="2"/>
<line x1="1577.49" y1="16.7" x2="1577.49" y2="22.2" stroke="#000" stroke-width="2"/>
<line x1="1628.24" y1="587.3" x2="1628.24" y2="598.3" stroke="#000" stroke-width="2"/>
<line x1="1628.24" y1="16.7" x2="1628.24" y2="27.2" stroke="#000" stroke-width="2"/>
<line x1="1678.99" y1="587.3" x2="1678.99" y2="593.3" stroke="#000" stroke-width="2"/>
<line x1="1678.99" y1="16.7" x2="1678.99" y2="22.2" stroke="#000" stroke-width="2"/>
<line x1="1729.73" y1="587.3" x2="1729.73" y2="598.3" stroke="#000" stroke-width="2"/>
<line x1="1729.73" y1="16.7" x2="1729.73" y2="27.2" stroke="#000" stroke-width="2"/>
<line x1="1019.3" y1="523.8" x2="1007.3" y2="523.8" stroke="#000" stroke-width="2"/>
<line x1="1729.7" y1="523.8" x2="1718.7" y2="523.8" stroke="#000" stroke-width="2"/>
<line x1="1019.3" y1="397.02" x2="1007.3" y2="397.02" stroke="#000" stroke-width="2"/>
<line x1="1729.7" y1="397.02" x2="1718.7" y2="397.02" stroke="#000" stroke-width="2"/>
<line x1="1019.3" y1="270.25" x2="1007.3" y2="270.25" stroke="#000" stroke-width="2"/>
<line x1="1729.7" y1="270.25" x2="1718.7" y2="270.25" stroke="#000" stroke-width="2"/>
<line x1="1019.3" y1="143.47" x2="1007.3" y2="143.47" stroke="#000" stroke-width="2"/>
<line x1="1729.7" y1="143.47" x2="1718.7" y2="143.47" stroke="#000" stroke-width="2"/>
<line x1="1019.3" y1="16.7" x2="1007.3" y2="16.7" stroke="#000" stroke-width="2"/>
<line x1="1729.7" y1="16.7" x2="1718.7" y2="16.7" stroke="#000" stroke-width="2"/>
<line x1="1019.3" y1="587.19" x2="1012.8" y2="587.19" stroke="#000" stroke-width="2"/>
<line x1="1729.7" y1="587.19" x2="1723.7" y2="587.19" stroke="#000" stroke-width="2"/>
<line x1="1019.3" y1="460.41" x2="1012.8" y2="460.41" stroke="#000" stroke-width="2"/>
<line x1="1729.7" y1="460.41" x2="1723.7" y2="460.41" stroke="#000" stroke-width="2"/>
<line x1="1019.3" y1="333.64" x2="1012.8" y2="333.64" stroke="#000" stroke-width="2"/>
<line x1="1729.7" y1="333.64" x2="1723.7" y2="333.64" stroke="#000" stroke-width="2"/>
<line x1="1019.3" y1="206.86" x2="1012.8" y2="206.86" stroke="#000" stroke-width="2"/>
<line x1="1729.7" y1="206.86" x2="1723.7" y2="206.86" stroke="#000" stroke-width="2"/>
<line x1="1019.3" y1="80.09" x2="1012.8" y2="80.09" stroke="#000" stroke-width="2"/>
<line x1="1729.7" y1="80.09" x2="1723.7" y2="80.09" stroke="#000" stroke-width="2"/>
<text x="999.8" y="26.1" font-size="24.5" text-anchor="end" fill="#111">2.0×10<tspan font-size="17" dy="-10">7</tspan></text>
<text x="999.8" y="152.87" font-size="24.5" text-anchor="end" fill="#111">1.5×10<tspan font-size="17" dy="-10">7</tspan></text>
<text x="999.8" y="279.65" font-size="24.5" text-anchor="end" fill="#111">1.0×10<tspan font-size="17" dy="-10">7</tspan></text>
<text x="999.8" y="406.42" font-size="24.5" text-anchor="end" fill="#111">5.0×10<tspan font-size="17" dy="-10">6</tspan></text>
<text x="999.7" y="531" font-size="24.6" text-anchor="end" font-weight="normal" fill="#111">0.0</text>
<text x="1019.3" y="625.6" font-size="24.4" text-anchor="middle" font-weight="normal" fill="#111">0.0</text>
<text x="1120.79" y="625.6" font-size="24.4" text-anchor="middle" font-weight="normal" fill="#111">0.1</text>
<text x="1222.28" y="625.6" font-size="24.4" text-anchor="middle" font-weight="normal" fill="#111">0.2</text>
<text x="1323.77" y="625.6" font-size="24.4" text-anchor="middle" font-weight="normal" fill="#111">0.3</text>
<text x="1425.26" y="625.6" font-size="24.4" text-anchor="middle" font-weight="normal" fill="#111">0.4</text>
<text x="1526.75" y="625.6" font-size="24.4" text-anchor="middle" font-weight="normal" fill="#111">0.5</text>
<text x="1628.24" y="625.6" font-size="24.4" text-anchor="middle" font-weight="normal" fill="#111">0.6</text>
<text x="1729.93" y="625.6" font-size="24.4" text-anchor="middle" font-weight="normal" fill="#111">0.7</text>
<text x="1302.6" y="669.6" font-size="30" text-anchor="start" font-weight="normal" fill="#111">depth (μm)</text>
<text x="903.4" y="422.6" font-size="30" text-anchor="start" font-weight="normal" fill="#111" transform="rotate(-90 903.4 422.6)">Electric field (V/m)</text>
<text x="1313.6" y="740.6" font-size="40.3" text-anchor="middle" font-weight="bold" fill="#000" font-family="Liberation Serif, Times New Roman, serif"><tspan dy="-1.3">(</tspan><tspan dy="1.3">b</tspan><tspan dy="-1.3">)</tspan></text>
</g>
<g id="chart-c">
<clipPath id="clipC"><rect x="470.7" y="783.6" width="715.7" height="570.8"/></clipPath>
<g clip-path="url(#clipC)">
<polyline points="470.8,1314.3 490.9,1318.3 511,1322.1 536.2,1323.8 556.3,1327.6 576.5,1331.4 596.6,1336.4 611.7,1340.2 623,1344 626.8,1348.2 636.9,1352.8 642,1356 655,1359 668,1356 673.4,1352 680.9,1349.5 684.7,1346.5 692.3,1343.5 699.8,1336.4 707.4,1328.9 714.9,1317.5 720,1310 725,1298.7 731.3,1288.6 736.3,1273.5 743.9,1259.6 747.6,1239.5 756.5,1221.9 758.2,1204.3 767.8,1186.6 770.3,1167.8 780.4,1151.4 781.5,1140 782.9,1130 792.4,1114.9 793.6,1094.8 803.8,1058.3 805.1,1038.1 815.2,1021.8 816.4,1005.4 827.3,990.3 828.3,975.2 838.6,958.9 840.3,945 850.4,934.9 851.7,924.9 863,917.3 864.3,909.8 874.3,903.5 875.6,897.2 886.2,890.9 888.2,887.1 897,883.8 899.5,880.8 910.8,877.8 928.4,875 946.1,870.8 966.2,870 986.3,869.2 1187,869.2" fill="none" stroke="#ff0000" stroke-width="2.9" stroke-linejoin="round" stroke-linecap="round"/>
<polyline points="470.8,1325.8 561.4,1325.8 581.5,1325.3 601.6,1323.8 621.8,1321.3 641.9,1318.3 674.6,1316.8 712.4,1315 747.6,1311.7 767.8,1310.7 770.3,1313.8 780.4,1317.5 782.9,1320 791.7,1317.5 793.3,1313.5 803.8,1301.2 805.1,1284.8 815.9,1265.9 816.9,1238.2 827.3,1209.3 829,1170.3 839.1,1130 840.3,1084.7 850.4,1041.9 851.7,997.9 861.7,961.4 863.5,921.1 873.1,888.4 875.1,864.5 885.1,850.6 886.9,841.1 897,835.5 908.3,845.6 910.1,859.4 919.6,875.8 921.4,892.2 931,912.3 933,933.7 943,952.6 944.8,972.7 954.4,991.6 956.1,1011.7 965.7,1031.9 968,1053.3 977.5,1074.7 979.3,1097.3 988.9,1117.4 990.6,1140.1 999.7,1160.2 1002.2,1179.1 1011.5,1197.5 1014,1216.8 1022.8,1231.9 1025.4,1247.8 1033.7,1262.2 1036.7,1276.7 1045.5,1288.6 1048,1296.1 1056.8,1303.7 1060.6,1310 1071.9,1317.5 1083.2,1323.8 1092.1,1325.1 1109.7,1325.8 1122.3,1325.6 1137.4,1326.3 1155,1325.8 1187,1325.8" fill="none" stroke="#0000ff" stroke-width="2.9" stroke-linejoin="round" stroke-linecap="round"/>
</g>
<rect x="470.7" y="783.6" width="715.7" height="570.8" fill="none" stroke="#000" stroke-width="2.35"/>
<rect x="479.5" y="796.5" width="292.5" height="77.5" fill="#fff" stroke="#777" stroke-width="1.3"/>
<line x1="484.3" y1="817.2" x2="551" y2="817.2" stroke="#ff0000" stroke-width="3" stroke-linecap="round"/>
<line x1="484.3" y1="853.6" x2="551" y2="853.6" stroke="#0000ff" stroke-width="3" stroke-linecap="round"/>
<text x="558.6" y="827.2" font-size="24.6" text-anchor="start" font-weight="normal" fill="#000">hole concentration</text>
<text x="557.9" y="863.3" font-size="24.6" text-anchor="start" font-weight="normal" fill="#000">Electric field</text>
<text x="457.6" y="1332.2" font-size="21.4" text-anchor="end" font-weight="normal" fill="#000">0</text>
<text x="457.6" y="1246.55" font-size="21.4" text-anchor="end" font-weight="normal" fill="#000">3M</text>
<text x="457.6" y="1160.9" font-size="21.4" text-anchor="end" font-weight="normal" fill="#000">6M</text>
<text x="457.6" y="1075.25" font-size="21.4" text-anchor="end" font-weight="normal" fill="#000">9M</text>
<text x="457.6" y="989.6" font-size="21.4" text-anchor="end" font-weight="normal" fill="#000">12M</text>
<text x="457.6" y="903.95" font-size="21.4" text-anchor="end" font-weight="normal" fill="#000">15M</text>
<text x="457.6" y="818.3" font-size="21.4" text-anchor="end" font-weight="normal" fill="#000">18M</text>
<text x="1198" y="1360.9" font-size="21.4" text-anchor="start" font-weight="normal" fill="#000">0</text>
<text x="1198" y="1303.82" font-size="21.4" text-anchor="start" font-weight="normal" fill="#000">2</text>
<text x="1198" y="1246.74" font-size="21.4" text-anchor="start" font-weight="normal" fill="#000">4</text>
<text x="1198" y="1189.66" font-size="21.4" text-anchor="start" font-weight="normal" fill="#000">6</text>
<text x="1198" y="1132.58" font-size="21.4" text-anchor="start" font-weight="normal" fill="#000">8</text>
<text x="1198" y="1075.5" font-size="21.4" text-anchor="start" font-weight="normal" fill="#000">10</text>
<text x="1198" y="1018.42" font-size="21.4" text-anchor="start" font-weight="normal" fill="#000">12</text>
<text x="1198" y="961.34" font-size="21.4" text-anchor="start" font-weight="normal" fill="#000">14</text>
<text x="1198" y="904.26" font-size="21.4" text-anchor="start" font-weight="normal" fill="#000">16</text>
<text x="1198" y="847.18" font-size="21.4" text-anchor="start" font-weight="normal" fill="#000">18</text>
<text x="1198" y="790.1" font-size="21.4" text-anchor="start" font-weight="normal" fill="#000">20</text>
<text x="470.1" y="1383" font-size="21.4" text-anchor="middle" font-weight="normal" fill="#000">0.0</text>
<text x="708.67" y="1383" font-size="21.4" text-anchor="middle" font-weight="normal" fill="#000">0.2</text>
<text x="947.23" y="1383" font-size="21.4" text-anchor="middle" font-weight="normal" fill="#000">0.4</text>
<text x="1185.8" y="1383" font-size="21.4" text-anchor="middle" font-weight="normal" fill="#000">0.6</text>
<text x="759.3" y="1427.2" font-size="29.8" text-anchor="start" font-weight="normal" fill="#000">depth(μm)</text>
<text x="403.4" y="1185.3" font-size="29.8" text-anchor="start" font-weight="normal" fill="#000" transform="rotate(-90 403.4 1185.3)">Electric field(V/m)</text>
<text x="1259" y="1258.8" font-size="29.8" text-anchor="start" fill="#000" transform="rotate(-90 1259 1258.8)">log hole concentration (1/m<tspan font-size="20" dy="-11.7">3</tspan><tspan dy="11.7">)</tspan></text>
<text x="820.0" y="1500.2" font-size="40.3" text-anchor="middle" font-weight="bold" fill="#000" font-family="Liberation Serif, Times New Roman, serif"><tspan dy="-1.3">(</tspan><tspan dy="1.3">c</tspan><tspan dy="-1.3">)</tspan></text>
</g>
</svg>
</body>
</html>
